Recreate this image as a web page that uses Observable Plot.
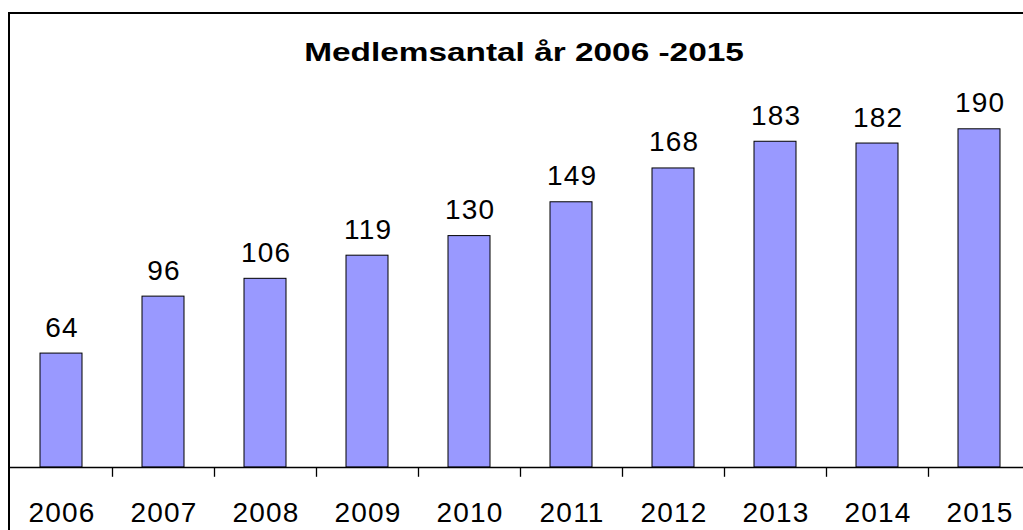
<!DOCTYPE html>
<html>
<head>
<meta charset="utf-8">
<script src="https://cdn.jsdelivr.net/npm/d3@7"></script>
<script src="https://cdn.jsdelivr.net/npm/@observablehq/plot@0.6"></script>
<style>
  html, body { margin: 0; padding: 0; background: #fff; }
  #wrap { position: relative; width: 1023px; height: 530px; overflow: hidden; background: #fff; }
  #frame { position: absolute; left: 8px; top: 12px; width: 1100px; height: 600px;
           border-left: 2px solid #000; border-top: 2px solid #000; box-sizing: border-box; }
  #chart { position: absolute; left: 0; top: 0; width: 1040px; }
  #chart svg { max-width: none !important; }
</style>
</head>
<body>
<div id="wrap"><div id="frame"></div><div id="chart"></div></div>
<script>
const title = "Medlemsantal år 2006 -2015";
const years = ["2006","2007","2008","2009","2010","2011","2012","2013","2014","2015"];
const members = [64, 96, 106, 119, 130, 149, 168, 183, 182, 190];

const data = years.map((y, i) => ({year: y, value: members[i]}));
const W = 1040, ML = 10, MR = 10;
const step = (W - ML - MR) / years.length;
const FONT = "'Liberation Sans', Arial, sans-serif";

const plot = Plot.plot({
  width: W,
  height: 530,
  marginLeft: ML,
  marginRight: MR,
  marginTop: 111,
  marginBottom: 63,
  style: {fontFamily: FONT, background: "transparent", overflow: "visible", maxWidth: "none"},
  x: {domain: years, padding: 0, axis: null},
  y: {domain: [0, 200], axis: null},
  marks: [
    Plot.barY(data, {x: "year", y: "value", fill: "#9999ff", stroke: "#000", strokeWidth: 1, insetLeft: 30, insetRight: 30}),
    Plot.text(data, {x: "year", y: "value", text: d => String(d.value), dy: -26, dx: 0.6, fontSize: 28, fill: "#000"}),
    Plot.ruleY([0], {stroke: "#000", strokeWidth: 1.3}),
    Plot.ruleX(years.slice(0, -1), {x: d => d, dx: step / 2, y1: 0, y2: -5.5, stroke: "#000", strokeWidth: 1.3}),
    Plot.axisX({tickSize: 0, tickPadding: 35, fontSize: 28, fill: "#000", label: null, dx: 0.6})
  ]
});

const svg = d3.select(plot);
svg.selectAll("text").style("letter-spacing", "1.2px");
svg.append("text")
  .attr("transform", "translate(524,61) scale(1.26,1)")
  .attr("text-anchor", "middle")
  .attr("font-family", FONT)
  .attr("font-weight", "bold")
  .attr("font-size", 26.5)
  .attr("fill", "#000")
  .text(title);

document.getElementById("chart").appendChild(plot);
</script>
</body>
</html>
